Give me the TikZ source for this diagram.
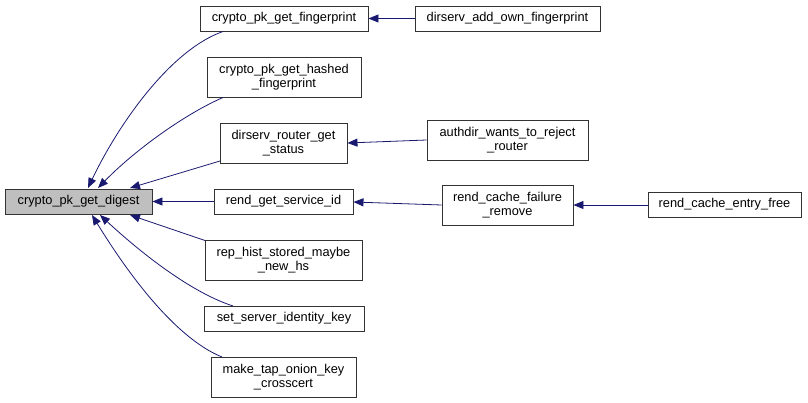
\documentclass[tikz,border=0pt]{standalone}
\usepackage{fontspec}
\setmainfont{Liberation Sans}
\usetikzlibrary{arrows.meta}
\definecolor{edgeblue}{RGB}{25,25,112}
\definecolor{hilite}{RGB}{191,191,191}
\tikzset{
  box/.style={draw=black!80, line width=0.9pt, fill=white, inner sep=0pt, align=center,
    font=\fontsize{12.8}{14}\selectfont},
  edge/.style={draw=edgeblue, line width=0.8pt, -{Triangle[length=10pt,width=8pt]}},
}
\newcommand{\bx}[6]{% name, x1, y1, x2, y2, text
  \node[box, minimum width={(#4-#2)*1pt}, minimum height={(#5-#3)*1pt}] (#1) at ({(#2+#4)/2},{(#3+#5)/2}) {#6};}
\begin{document}
\begin{tikzpicture}[x=1pt,y=-1pt]
\useasboundingbox (0,0) rectangle (808,403);
\node[box, fill=hilite, minimum width=147pt, minimum height=25pt] (dig) at (78.5,201.5) {crypto\_pk\_get\_digest};
\bx{fp}{200}{6}{368}{31}{crypto\_pk\_get\_fingerprint}
\bx{hfp}{207}{57}{361}{97}{crypto\_pk\_get\_hashed\\\_fingerprint}
\bx{drs}{220}{123}{347}{163}{dirserv\_router\_get\\\_status}
\bx{rsid}{214}{189}{353}{214}{rend\_get\_service\_id}
\bx{rep}{205}{240}{362}{280}{rep\_hist\_stored\_maybe\\\_new\_hs}
\bx{ssik}{204}{306}{364}{331}{set\_server\_identity\_key}
\bx{mtok}{211}{357}{356}{397}{make\_tap\_onion\_key\\\_crosscert}
\bx{daof}{415}{6}{600}{31}{dirserv\_add\_own\_fingerprint}
\bx{awr}{427}{120}{588}{160}{authdir\_wants\_to\_reject\\\_router}
\bx{rcfr}{442}{185}{573}{225}{rend\_cache\_failure\\\_remove}
\bx{rcef}{648}{192}{801}{217}{rend\_cache\_entry\_free}

\coordinate (s1) at (223,31.5);
\coordinate (s2) at (223,97.5);
\coordinate (s3) at (220,161);
\coordinate (s5) at (205,240.5);
\coordinate (s6) at (233,306);
\coordinate (s7) at (222,357);
\coordinate (t1) at (88,188);
\coordinate (t2) at (98,188);
\coordinate (t3) at (130,188);
\coordinate (t5) at (130,215);
\coordinate (t6) at (100,215);
\coordinate (t7) at (92,215);

\draw[edge] (s1) .. controls (170,50) and (118,125) .. (t1);
\draw[edge] (s2) .. controls (185,114) and (135,150) .. (t2);
\draw[edge] (s3) -- (t3);
\draw[edge] (rsid.west) -- (dig.east);
\draw[edge] (s5) -- (t5);
\draw[edge] (s6) .. controls (190,292) and (140,252) .. (t6);
\draw[edge] (s7) .. controls (180,340) and (135,285) .. (t7);

\draw[edge] (daof.west) -- (fp.east);
\draw[edge] (awr.west) -- (drs.east);
\draw[edge] (rcfr.west |- 0,205) -- (rsid.east |- 0,202);
\draw[edge] (rcef.west |- 0,205) -- (rcfr.east |- 0,205);
\end{tikzpicture}
\end{document}
